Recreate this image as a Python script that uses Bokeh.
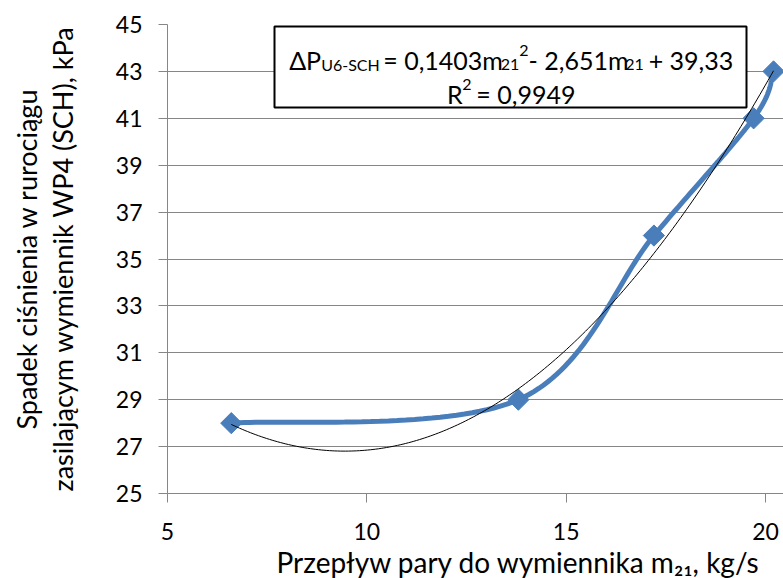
import numpy as np
from bokeh.plotting import figure
from bokeh.models import Label, BoxAnnotation, Range1d, Title
from bokeh.embed import file_html
from bokeh.resources import INLINE

# ---- data ----
flow = [6.6, 13.8, 17.2, 19.7, 20.2]          # m21, kg/s
dp = [28.0, 29.0, 36.0, 41.0, 43.0]           # pressure drop, kPa
trend_coef = [0.1403, -2.651, 39.33]          # quadratic trendline (from label)
x_ticks = [5, 10, 15, 20]
y_ticks = [25, 27, 29, 31, 33, 35, 37, 39, 41, 43, 45]

x_title = "Przep\u0142yw pary do wymiennika  m\u2082\u2081, kg/s"
y_title_1 = "Spadek ci\u015bnienia w ruroci\u0105gu"
y_title_2 = "zasilaj\u0105cym wymiennik WP4 (SCH), kPa"

# ---- geometry ----
W, H = 783, 578
LEFT, TOP, RIGHT, BOTTOM = 167, 24, 0, 85
XMIN, XMAX, YMIN, YMAX = 5, 20.45, 25, 45
FW, FH = W - LEFT - RIGHT, H - TOP - BOTTOM
PPX = FW / (XMAX - XMIN)
PPY = FH / (YMAX - YMIN)

def X(px):
    return XMIN + (px - LEFT) / PPX

def Y(py):
    return YMIN + (TOP + FH - py) / PPY

FONT = "Lato"
BLUE = "#4A7EBB"
GRAY = "#868686"

p = figure(width=W, height=H, output_backend="svg", toolbar_location=None,
           x_range=Range1d(XMIN, XMAX), y_range=Range1d(YMIN, YMAX),
           min_border_left=LEFT, min_border_right=RIGHT,
           min_border_top=TOP, min_border_bottom=BOTTOM)
p.outline_line_color = None
p.background_fill_color = "white"
p.border_fill_color = "white"

p.xaxis.ticker = x_ticks
p.yaxis.ticker = y_ticks
for ax in (p.xaxis, p.yaxis):
    ax.axis_line_color = GRAY
    ax.major_tick_line_color = GRAY
    ax.minor_tick_line_color = None
    ax.major_tick_in = 0
    ax.major_tick_out = 9
    ax.major_label_text_font = FONT
    ax.major_label_text_font_size = "23px"
    ax.major_label_text_color = "black"
p.xaxis.major_label_standoff = 20
p.yaxis.major_label_standoff = 16
p.xgrid.visible = False
p.ygrid.grid_line_color = GRAY
p.ygrid.grid_line_width = 1

# ---- axis titles ----
p.yaxis.axis_label = y_title_2
p.yaxis.axis_label_standoff = 34
p.yaxis.axis_label_text_font = FONT
p.yaxis.axis_label_text_font_size = "27px"
p.yaxis.axis_label_text_font_style = "normal"
p.yaxis.axis_label_text_color = "black"

p.add_layout(Title(text=x_title, align="left", offset=109, standoff=0,
                   text_font=FONT, text_font_size="28px",
                   text_font_style="normal", text_color="black"), "below")
p.add_layout(Title(text=y_title_1, align="center", offset=27, standoff=0,
                   text_font=FONT, text_font_size="27px",
                   text_font_style="normal", text_color="black"), "left")

# ---- smoothed series line (Bezier through the points, in screen space) ----
def smooth(xs, ys, n=40):
    P = np.column_stack([np.asarray(xs) * PPX, np.asarray(ys) * PPY])
    m = len(P)
    out = []
    for i in range(m - 1):
        p0 = P[i - 1] if i > 0 else P[i]
        p1, p2 = P[i], P[i + 1]
        p3 = P[i + 2] if i + 2 < m else P[i + 1]
        b1 = p1 + (p2 - p0) / 6.0
        b2 = p2 - (p3 - p1) / 6.0
        t = np.linspace(0, 1, n)[:, None]
        seg = (1 - t) ** 3 * p1 + 3 * (1 - t) ** 2 * t * b1 + 3 * (1 - t) * t ** 2 * b2 + t ** 3 * p2
        out.append(seg if i == 0 else seg[1:])
    S = np.vstack(out)
    return S[:, 0] / PPX, S[:, 1] / PPY

sx, sy = smooth(flow, dp)
p.line(sx, sy, line_color=BLUE, line_width=5)
p.scatter(flow, dp, marker="square", size=15, angle=np.pi / 4,
          fill_color=BLUE, line_color=BLUE)

tx = np.linspace(min(flow), max(flow), 200)
ty = np.polyval(trend_coef, tx)
p.line(tx, ty, line_color="black", line_width=1)

# ---- equation box ----
p.add_layout(BoxAnnotation(left=X(274), right=X(746), top=Y(26), bottom=Y(107),
                           fill_color="white", fill_alpha=1.0,
                           line_color="black", line_alpha=1.0, line_width=2))

EM = {" ": 0.193, ",": 0.195, "-": 0.33, "=": 0.58, "+": 0.58, "m": 0.83,
      "P": 0.60, "\u0394": 0.68, "U": 0.72, "S": 0.52, "C": 0.67, "H": 0.76, "R": 0.61}

def tw(text, size):
    return sum(EM.get(c, 0.58) for c in text) * size

def lab(text, px, py, size, align="left", angle=0.0):
    p.add_layout(Label(x=X(px), y=Y(py), text=text, text_font=FONT,
                       text_font_size=f"{size}px", text_align=align,
                       text_baseline="alphabetic", angle=angle,
                       text_color="black"))

def line_of(pieces, cx, base, N, S):
    sizes = {"n": N, "sub": S, "sup": S}
    dys = {"n": 0, "sub": 5, "sup": -9}
    total = sum(tw(t, sizes[k]) for t, k in pieces)
    x = cx - total / 2
    for t, k in pieces:
        lead = len(t) - len(t.lstrip(" "))
        x += tw(" " * lead, sizes[k])
        body = t.strip(" ")
        lab(body, x, base + dys[k], sizes[k])
        x += tw(t.lstrip(" "), sizes[k])

N, S = 25, 16
line_of([("\u0394P", "n"), ("U6-SCH", "sub"), (" = 0,1403m", "n"), ("21", "sub"),
         ("2", "sup"), ("- 2,651m", "n"), ("21", "sub"), (" + 39,33", "n")],
        509.5, 59, N, S)
line_of([("R", "n"), ("2", "sup"), (" = 0,9949", "n")], 509.5, 93, N, S)

open("out.html", "w").write(file_html(p, INLINE))
